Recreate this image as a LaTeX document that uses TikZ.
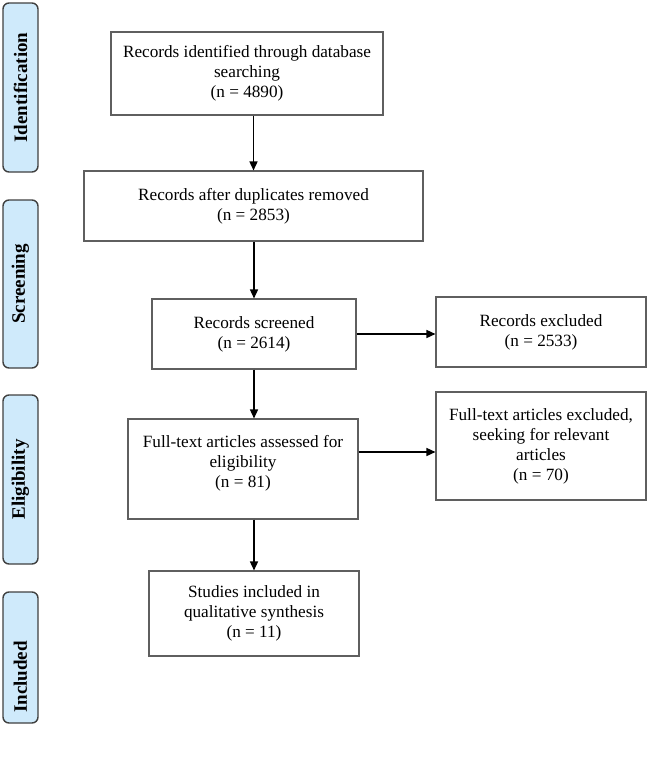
\documentclass[tikz,border=0pt]{standalone}
\usepackage{fontspec}
\setmainfont{Liberation Serif}
\usetikzlibrary{arrows.meta}
\definecolor{phaseblue}{RGB}{207,234,251}
\definecolor{boxgray}{RGB}{95,95,95}
\begin{document}
\begin{tikzpicture}[x=1pt, y=-1pt,
	box/.style={draw=boxgray, line width=1.1pt, align=center, inner sep=0pt,
		font=\fontsize{17.2}{20}\selectfont},
	phase/.style={draw=black!75, line width=1.4pt, fill=phaseblue, rounded corners=6pt,
		rotate=90, minimum height=35, inner sep=0pt},
	phasetext/.style={font=\fontsize{19}{22}\selectfont\bfseries},
	flow/.style={arrows={-Triangle[length=9pt, width=8pt]}, line width=1.5pt}]
	\useasboundingbox (0, 0) rectangle (649, 764);

	% phases
	\node [phase, phasetext, minimum width=169] (identification) at (20.5, 87.5) {Identification};
	\node [phase, phasetext, minimum width=168] (screening) at (20.5, 284) {Screening};
	\node [phase, phasetext, minimum width=169] (eligibility) at (20.5, 479.5) {Eligibility};
	\node [phase, minimum width=131] (included) at (20.5, 657.5) {};
	\node [phasetext, rotate=90] (includedlabel) at (20.5, 677) {Included};

	% boxes
	\node [box, minimum width=272, minimum height=83] (identified) at (247, 73.5)
		{Records identified through database\\searching\\(n = 4890)};
	\node [box, minimum width=339, minimum height=70] (duplicates) at (253.5, 206)
		{Records after duplicates removed\\(n = 2853)};
	\node [box, minimum width=204, minimum height=70] (screened) at (254, 334)
		{Records screened\\(n = 2614)};
	\node [box, minimum width=210, minimum height=70] (excluded) at (541, 332)
		{Records excluded\\(n = 2533)};
	\node [box, minimum width=230, minimum height=100] (fulltext) at (243, 469)
		{Full-text articles assessed for\\eligibility\\(n = 81)\\[-4pt]\mbox{}};
	\node [box, minimum width=210, minimum height=108] (ftexcluded) at (541, 446)
		{Full-text articles excluded,\\seeking for relevant\\articles\\(n = 70)};
	\node [box, minimum width=210, minimum height=85] (studies) at (254, 613.5)
		{Studies included in\\qualitative synthesis\\(n = 11)};

	% arrows
	\draw [flow] (identified.south -| duplicates) -- (duplicates.north);
	\draw [flow] (duplicates.south -| screened) -- (screened.north);
	\draw [flow] (screened.south) -- (fulltext.north -| screened);
	\draw [flow] (fulltext.south -| studies) -- (studies.north);
	\draw [flow] (screened.east) -- (screened.east -| excluded.west);
	\draw [flow] ([yshift=-6pt]ftexcluded.west -| fulltext.east) -- ([yshift=-6pt]ftexcluded.west);
\end{tikzpicture}
\end{document}
